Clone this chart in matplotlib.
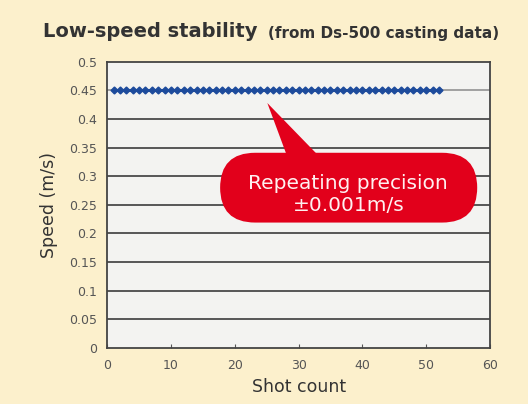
import matplotlib.pyplot as plt
from matplotlib.patches import FancyBboxPatch, Polygon
import numpy as np

# Dữ liệu
shots = list(range(1, 53))
speed = [0.45] * len(shots)
y_ticks = [0, 0.05, 0.1, 0.15, 0.2, 0.25, 0.3, 0.35, 0.4, 0.45, 0.5]
y_labels = ['0', '0.05', '0.1', '0.15', '0.2', '0.25', '0.3', '0.35', '0.4', '0.45', '0.5']
x_ticks = [0, 10, 20, 30, 40, 50, 60]

bg = '#fcf0cc'
fig = plt.figure(figsize=(5.28, 4.04), dpi=100, facecolor=bg)
ax = fig.add_axes([0.203, 0.139, 0.725, 0.708])
ax.set_facecolor('#f3f3f1')

# Đường lưới ngang
for y in y_ticks[1:-1]:
    c = '#9a9a9a' if y == 0.45 else '#4a4a4a'
    ax.axhline(y, color=c, lw=1.3, zorder=1)

ax.plot(shots, speed, color='#1d4b9c', lw=2.2, marker='D', markersize=3.5, zorder=3)

ax.set_xlim(0, 60)
ax.set_ylim(0, 0.5)
ax.set_yticks(y_ticks)
ax.set_yticklabels(y_labels)
ax.set_xticks(x_ticks)
ax.tick_params(axis='both', labelsize=9, colors='#555555', length=3, direction='in')
ax.tick_params(axis='x', pad=8)
ax.tick_params(axis='y', length=0, pad=7)
for s in ax.spines.values():
    s.set_color('#444444')
    s.set_linewidth(1.3)

ax.set_xlabel('Shot count', fontsize=12.5, color='#333333', labelpad=4)
ax.set_ylabel('Speed (m/s)', fontsize=12.5, color='#333333', labelpad=8)

# Tiêu đề
fig.text(0.081, 0.922, 'Low-speed stability', fontsize=14, fontweight='bold',
         color='#333333', ha='left', va='center')
fig.text(0.508, 0.918, '(from Ds-500 casting data)', fontsize=11, fontweight='bold',
         color='#333333', ha='left', va='center')

# Hộp chú thích màu đỏ
red = '#e2001b'
box = FancyBboxPatch((17.7, 0.219), 40.3, 0.122, boxstyle='round,pad=0,rounding_size=5.5',
                     mutation_aspect=0.0112, facecolor=red, edgecolor='none', zorder=4,
                     transform=ax.transData)
ax.add_patch(box)
ax.add_patch(Polygon([[25.1, 0.428], [28.2, 0.335], [33.2, 0.335]], closed=True,
                     facecolor=red, edgecolor='none', zorder=4))
ax.text(37.8, 0.268, 'Repeating precision\n±0.001m/s', color='#fff0f0', fontsize=14.5,
        ha='center', va='center', linespacing=1.2, zorder=5)

plt.savefig('out.png', dpi=100, facecolor=bg)
